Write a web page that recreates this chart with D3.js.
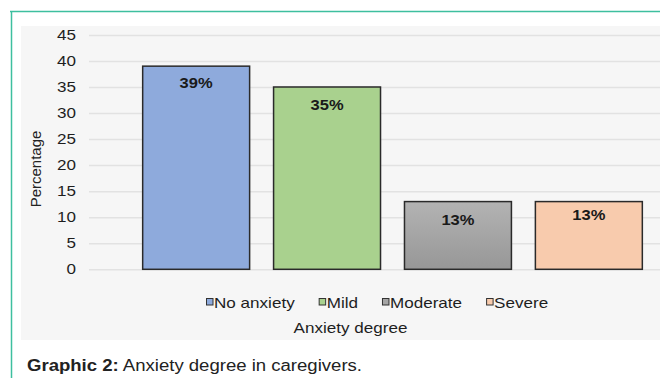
<!DOCTYPE html>
<html><head><meta charset="utf-8">
<script src="https://cdn.jsdelivr.net/npm/d3@7"></script>
<style>
html,body{margin:0;padding:0;background:#fff;}
svg{display:block;font-family:"Liberation Sans",Arial,sans-serif;}
</style></head>
<body>
<svg id="c" width="660" height="378"></svg>
<script>
const categories = ["No anxiety", "Mild", "Moderate", "Severe"];
const values = [39, 35, 13, 13];
const valueLabels = ["39%", "35%", "13%", "13%"];
const yTicks = [0, 5, 10, 15, 20, 25, 30, 35, 40, 45];
const colors = ["#8eaadc", "#a9d18e", "url(#greyGrad)", "#f8cbad"];
const legendColors = ["#8eaadc", "#a9d18e", "#a5a5a5", "#f8cbad"];
const labelDy = [22, 23, 23, 18];
const SX = 1.22; // horizontal stretch seen in the reference text

const svg = d3.select("#c");
const defs = svg.append("defs");
const g1 = defs.append("linearGradient").attr("id","greyGrad").attr("x1",0).attr("y1",0).attr("x2",0).attr("y2",1);
g1.append("stop").attr("offset","0%").attr("stop-color","#b3b3b3");
g1.append("stop").attr("offset","100%").attr("stop-color","#979797");

// frame
svg.append("line").attr("x1",10).attr("x2",660).attr("y1",11.5).attr("y2",11.5).attr("stroke","#3dbf9f").attr("stroke-width",1.5);
svg.append("line").attr("x1",11.5).attr("x2",11.5).attr("y1",11).attr("y2",378).attr("stroke","#3dbf9f").attr("stroke-width",1.5);
// chart background
svg.append("rect").attr("x",21).attr("y",26).attr("width",639).attr("height",314).attr("fill","#f6f6f6");

const y = d3.scaleLinear().domain([0,45]).range([269.3,34.9]);
const x = d3.scaleBand().domain(categories).range([89,696]).paddingInner(0.183).paddingOuter(0.41);

function stext(sel, xx, yy, txt, opts) {
  const t = sel.append("text")
    .attr("transform", `translate(${xx},${yy}) scale(${opts.sx || SX},1)`)
    .attr("text-anchor", opts.anchor || "start")
    .attr("font-size", opts.size || 14)
    .attr("font-weight", opts.weight || "normal")
    .attr("fill", opts.fill || "#222")
    .text(txt);
  return t;
}

// gridlines via axis
const yAxis = d3.axisLeft(y).tickValues(yTicks).tickSize(-(660-89)).tickFormat("");
const ga = svg.append("g").attr("transform","translate(89,0)").call(yAxis);
ga.select(".domain").remove();
ga.selectAll(".tick line").attr("stroke","#e2e2e2").attr("stroke-width",1.5);

// tick labels
yTicks.forEach(v => stext(svg, 76, y(v)+5, String(v), {anchor:"end", size:14, fill:"#1e1e1e"}));

// bars
svg.selectAll("rect.bar").data(values).enter().append("rect")
  .attr("class","bar")
  .attr("x",(d,i)=>x(categories[i]))
  .attr("y",d=>y(d))
  .attr("width",x.bandwidth())
  .attr("height",d=>y(0)-y(d))
  .attr("fill",(d,i)=>colors[i])
  .attr("stroke","#2a2a2a").attr("stroke-width",1.5);

values.forEach((v,i)=>{
  stext(svg, x(categories[i])+x.bandwidth()/2, y(v)+labelDy[i], valueLabels[i], {anchor:"middle", size:14, weight:"bold", fill:"#1a1a1a", sx:1.18});
});

// y title
svg.append("text").attr("transform","translate(41,169) rotate(-90)")
  .attr("text-anchor","middle").attr("font-size",15).attr("fill","#222").text("Percentage");

// legend
let lx = 206;
const lg = svg.append("g");
categories.forEach((c,i)=>{
  lg.append("rect").attr("x",lx+0.5).attr("y",298.5).attr("width",6.5).attr("height",6.5)
    .attr("fill",legendColors[i]).attr("stroke","#333").attr("stroke-width",1);
  const t = stext(lg, lx+8, 308, c, {size:14, fill:"#1e1e1e"});
  const w = t.node().getComputedTextLength()*SX;
  lx = lx + 8 + w + 24;
});

// x title
stext(svg, 350.5, 332.5, "Anxiety degree", {anchor:"middle", size:14, fill:"#1e1e1e"});

// caption
const cap = svg.append("text").attr("transform",`translate(27,371) scale(1.16,1)`).attr("font-size",16).attr("fill","#222");
cap.append("tspan").attr("font-weight","bold").text("Graphic 2:");
cap.append("tspan").text(" Anxiety degree in caregivers.");
</script>
</body></html>
